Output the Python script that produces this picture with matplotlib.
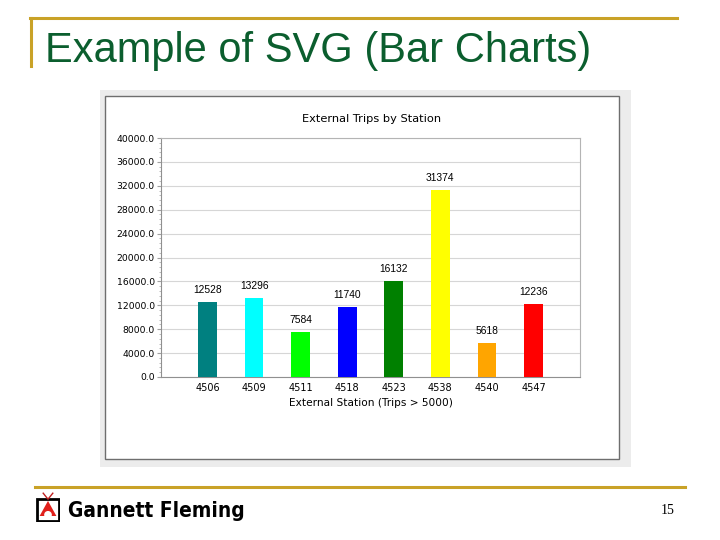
import numpy as np
import matplotlib.pyplot as plt
from matplotlib.patches import Rectangle, Polygon, Circle
from matplotlib.ticker import MultipleLocator, FormatStrFormatter

# dados do grafico
estacoes = ['4506', '4509', '4511', '4518', '4523', '4538', '4540', '4547']
viagens = [12528, 13296, 7584, 11740, 16132, 31374, 5618, 12236]
cores = ['#008080', '#00ffff', '#00ff00', '#0000ff', '#008000', '#ffff00', '#ffa500', '#ff0000']

titulo_slide = 'Example of SVG (Bar Charts)'
titulo_grafico = 'External Trips by Station'
rotulo_x = 'External Station (Trips > 5000)'
pagina = '15'

W, H = 720, 540
gold = '#c9a227'

fig = plt.figure(figsize=(7.2, 5.4), dpi=100)


def fx(px):
    return px / W


def fy(py):
    return 1 - py / H


# moldura do slide
fig.add_artist(plt.Line2D([fx(30), fx(677)], [fy(18), fy(18)], color=gold, lw=2.2))
fig.add_artist(plt.Line2D([fx(31), fx(31)], [fy(18), fy(66)], color=gold, lw=2.2))
fig.text(fx(45), fy(51), titulo_slide, fontsize=30, color='#0b5e2e',
         family='Liberation Sans', va='center', ha='left')

# painel cinza e caixa branca
fig.add_artist(Rectangle((fx(100), fy(467)), fx(531), 377 / H, transform=fig.transFigure,
                         facecolor='#ececec', edgecolor='none', zorder=0))
fig.add_artist(Rectangle((fx(105), fy(459)), fx(514), 363 / H, transform=fig.transFigure,
                         facecolor='white', edgecolor='#6e6e6e', lw=1, zorder=0.5))

# grafico de barras
ax = fig.add_axes([fx(161), fy(377), fx(419), 239 / H])
ax.set_zorder(2)
x = np.arange(len(estacoes))
barras = ax.bar(x, viagens, width=0.4, color=cores, zorder=3)
for xi, v in zip(x, viagens):
    ax.annotate(str(v), (xi, v), xytext=(0, 5), textcoords='offset points',
                ha='center', va='bottom', fontsize=7.4, family='Liberation Sans')

ax.set_xlim(-1, 8)
ax.set_ylim(0, 40000)
ax.set_xticks(x)
ax.set_xticklabels(estacoes, fontsize=7, family='DejaVu Sans')
ax.yaxis.set_major_locator(MultipleLocator(4000))
ax.yaxis.set_minor_locator(MultipleLocator(800))
ax.yaxis.set_major_formatter(FormatStrFormatter('%.1f'))
ax.tick_params(axis='y', labelsize=6.7, length=3, color='#a0a0a0', pad=1.5)
ax.tick_params(axis='y', which='minor', length=1.5, color='#b0b0b0')
ax.tick_params(axis='x', length=0, pad=4)
ax.grid(axis='y', color='#d6d6d6', lw=0.8, zorder=0)
for s in ax.spines.values():
    s.set_color('#b4b4b4')
    s.set_linewidth(0.8)
ax.spines['left'].set_color('#909090')
ax.spines['bottom'].set_color('#909090')

fig.text(fx(372), fy(119), titulo_grafico, fontsize=8.2, ha='center', va='center', zorder=3)
fig.text(fx(371), fy(403), rotulo_x, fontsize=7.6, ha='center', va='center', zorder=3)

# rodape
fig.add_artist(plt.Line2D([fx(35), fx(685)], [fy(487), fy(487)], color=gold, lw=2.2))
icone = fig.add_axes([fx(36), fy(522), fx(24), 30 / H])
icone.set_xlim(0, 1)
icone.set_ylim(0, 1.25)
icone.axis('off')
icone.add_patch(Rectangle((0.05, 0.05), 0.9, 0.9, facecolor='white', edgecolor='black', lw=2))
icone.add_patch(Polygon([[0.5, 0.88], [0.15, 0.25], [0.85, 0.25]], facecolor='#e0201b'))
icone.add_patch(Circle((0.5, 0.3), 0.16, facecolor='white', edgecolor='none'))
icone.plot([0.3, 0.5, 0.7], [1.2, 0.95, 1.2], color='#c02020', lw=1)
fig.text(fx(68), fy(511), 'Gannett Fleming', fontsize=15, fontweight='bold',
         fontstretch='condensed', family='DejaVu Sans', va='center', ha='left')
fig.text(fx(668), fy(511), pagina, fontsize=10, family='Liberation Serif',
         va='center', ha='center')

fig.savefig('out.png', dpi=100)
